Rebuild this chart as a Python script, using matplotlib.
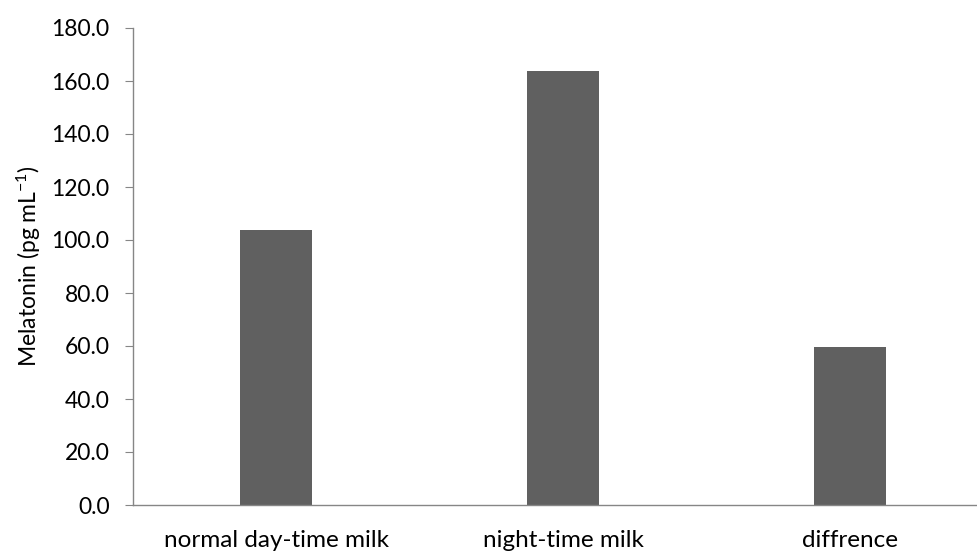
import matplotlib
matplotlib.use("Agg")
import matplotlib.pyplot as plt

categories = ["normal day-time milk", "night-time milk", "diffrence"]
values = [103.6, 163.9, 59.5]
yticks = [0, 20, 40, 60, 80, 100, 120, 140, 160, 180]

plt.rcParams['font.family'] = ['Lato', 'DejaVu Sans']
plt.rcParams['mathtext.default'] = 'regular'

W, H = 977, 551
fig = plt.figure(figsize=(W/100, H/100), dpi=100)
left, right, bottom, top = 132.5, 977, 505, 28
ax = fig.add_axes([left/W, (H-bottom)/H, (right-left)/W, (bottom-top)/H])

x = list(range(len(categories)))
ax.bar(x, values, width=0.25, color="#606060", zorder=2)

span = 287.0
ax.set_xlim(-0.5, -0.5 + (right-left)/span)
ax.set_ylim(0, 180)
ax.set_yticks(yticks)
ax.set_yticklabels([f"{v:.1f}" for v in yticks])
ax.set_xticks(x)
ax.set_xticklabels(categories)

for s in ["top", "right"]:
    ax.spines[s].set_visible(False)
for s in ["left", "bottom"]:
    ax.spines[s].set_color("#868686")
    ax.spines[s].set_linewidth(1)

ax.tick_params(axis="y", direction="out", length=5.5, color="#868686", labelsize=16.5, pad=11, labelcolor="#000000")
ax.tick_params(axis="x", length=0, labelsize=17.5, pad=18, labelcolor="#000000")
ax.set_ylabel("Melatonin (pg mL$^{-1}$)", fontsize=16.5, labelpad=6)

fig.savefig("out.png", dpi=100)
